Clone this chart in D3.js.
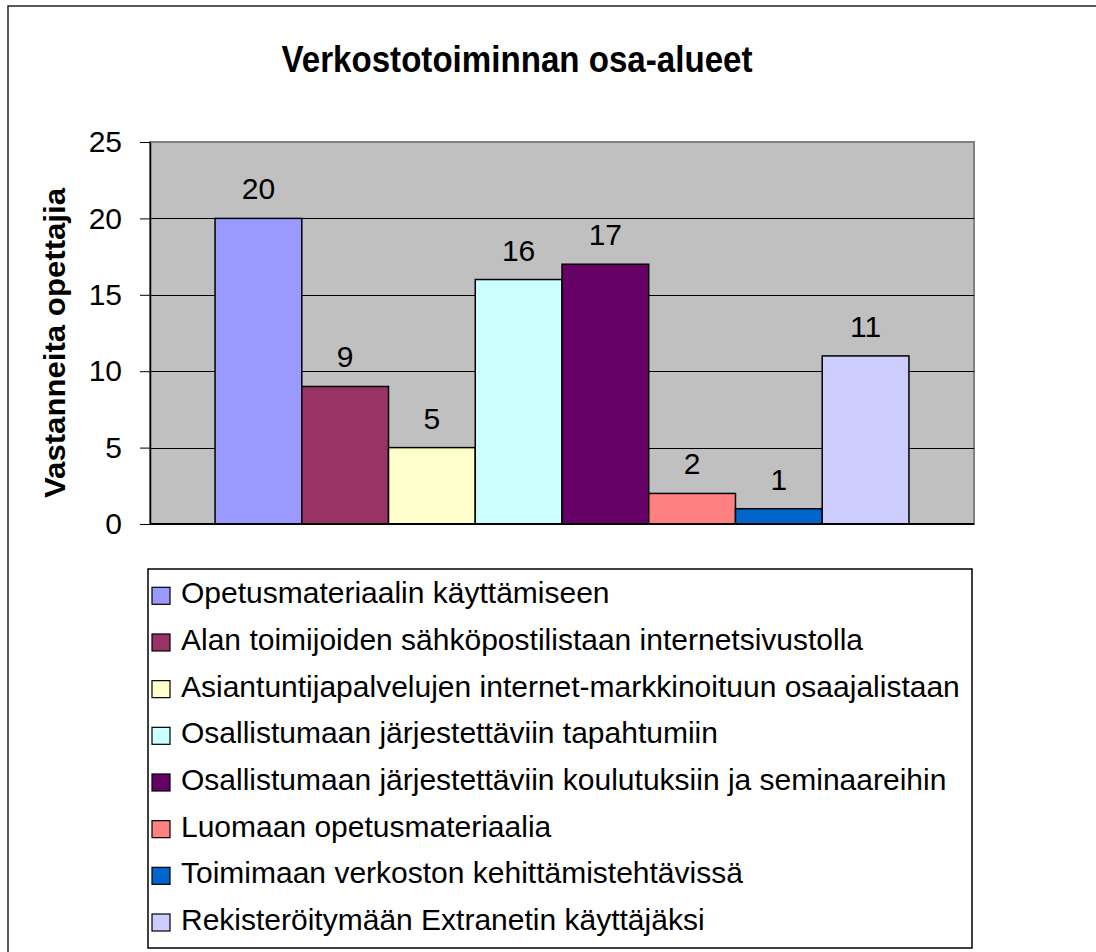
<!DOCTYPE html>
<html>
<head>
<meta charset="utf-8">
<script src="https://cdn.jsdelivr.net/npm/d3@7"></script>
<style>
  body { margin: 0; background: #fff; }
  text { font-family: "Liberation Sans", Arial, sans-serif; }
</style>
</head>
<body>
<div id="chart"></div>
<script>
const series = [
  "Opetusmateriaalin käyttämiseen",
  "Alan toimijoiden sähköpostilistaan internetsivustolla",
  "Asiantuntijapalvelujen internet-markkinoituun osaajalistaan",
  "Osallistumaan järjestettäviin tapahtumiin",
  "Osallistumaan järjestettäviin koulutuksiin ja seminaareihin",
  "Luomaan opetusmateriaalia",
  "Toimimaan verkoston kehittämistehtävissä",
  "Rekisteröitymään Extranetin käyttäjäksi"
];
const values = [20, 9, 5, 16, 17, 2, 1, 11];
const colors = ["#9999FF", "#993366", "#FFFFCC", "#CCFFFF", "#660066", "#FF8080", "#0066CC", "#CCCCFF"];
const yTicks = [0, 5, 10, 15, 20, 25];

const width = 1096, height = 952;
const plot = {left: 150, right: 974, top: 142, bottom: 524};

const svg = d3.select("#chart").append("svg")
  .attr("width", width)
  .attr("height", height);

// outer chart frame (runs off the picture on right/bottom)
svg.append("rect")
  .attr("x", 8).attr("y", 6)
  .attr("width", 1110).attr("height", 980)
  .attr("fill", "#fff")
  .attr("stroke", "#222").attr("stroke-width", 1.5);

const x = d3.scaleBand()
  .domain(series)
  .range([plot.left, plot.right])
  .paddingInner(0)
  .paddingOuter(0.75);

const y = d3.scaleLinear()
  .domain([0, 25])
  .range([plot.bottom, plot.top]);

// plot area
svg.append("rect")
  .attr("x", plot.left).attr("y", plot.top)
  .attr("width", plot.right - plot.left).attr("height", plot.bottom - plot.top)
  .attr("fill", "#C0C0C0")
  .attr("stroke", "#808080").attr("stroke-width", 2);

// gridlines
svg.append("g")
  .selectAll("line")
  .data(yTicks.filter(d => d > 0 && d < 25))
  .join("line")
  .attr("x1", plot.left).attr("x2", plot.right)
  .attr("y1", d => Math.round(y(d)) + 0.5).attr("y2", d => Math.round(y(d)) + 0.5)
  .attr("stroke", "#000").attr("stroke-width", 1);

// bars
svg.append("g")
  .selectAll("rect")
  .data(values)
  .join("rect")
  .attr("x", (d, i) => x(series[i]))
  .attr("y", d => y(d))
  .attr("width", x.bandwidth())
  .attr("height", d => y(0) - y(d))
  .attr("fill", (d, i) => colors[i])
  .attr("stroke", "#000").attr("stroke-width", 1.5);

// value labels
svg.append("g")
  .selectAll("text")
  .data(values)
  .join("text")
  .attr("x", (d, i) => x(series[i]) + x.bandwidth() / 2)
  .attr("y", d => y(d) - 19)
  .attr("text-anchor", "middle")
  .attr("font-size", 30)
  .attr("fill", "#000")
  .text(d => d);

// y axis
const yAxis = svg.append("g")
  .attr("transform", `translate(${plot.left},0)`)
  .call(d3.axisLeft(y).tickValues(yTicks).tickSize(10).tickPadding(18).tickSizeOuter(0));
yAxis.select(".domain").attr("stroke", "#000").attr("stroke-width", 1.5);
yAxis.selectAll(".tick line").attr("stroke", "#000").attr("stroke-width", 1);
yAxis.selectAll(".tick text")
  .attr("font-size", 30)
  .attr("font-family", "Liberation Sans, Arial, sans-serif")
  .attr("fill", "#000");

// x axis line
svg.append("line")
  .attr("x1", plot.left).attr("x2", plot.right)
  .attr("y1", plot.bottom).attr("y2", plot.bottom)
  .attr("stroke", "#000").attr("stroke-width", 2);

// title
svg.append("text")
  .attr("x", 517).attr("y", 72)
  .attr("text-anchor", "middle")
  .attr("font-size", 37)
  .attr("font-weight", "bold")
  .attr("textLength", 471)
  .attr("lengthAdjust", "spacingAndGlyphs")
  .text("Verkostotoiminnan osa-alueet");

// y axis title
svg.append("text")
  .attr("transform", "translate(65,343) rotate(-90)")
  .attr("text-anchor", "middle")
  .attr("font-size", 29)
  .attr("font-weight", "bold")
  .attr("textLength", 310)
  .attr("lengthAdjust", "spacingAndGlyphs")
  .text("Vastanneita opettajia");

// legend
const legend = svg.append("g");
legend.append("rect")
  .attr("x", 148).attr("y", 569)
  .attr("width", 824).attr("height", 379)
  .attr("fill", "#fff")
  .attr("stroke", "#000").attr("stroke-width", 1.5);

const rowY = d3.scalePoint()
  .domain(series)
  .range([603.3, 930]);

const item = legend.selectAll("g.item")
  .data(series)
  .join("g")
  .attr("class", "item")
  .attr("transform", d => `translate(0,${rowY(d)})`);

item.append("rect")
  .attr("x", 152).attr("y", -16)
  .attr("width", 18).attr("height", 17)
  .attr("fill", (d, i) => colors[i])
  .attr("stroke", "#000").attr("stroke-width", 1.2);

item.append("text")
  .attr("x", 181).attr("y", 0)
  .attr("font-size", 30)
  .attr("fill", "#000")
  .text(d => d);
</script>
</body>
</html>
